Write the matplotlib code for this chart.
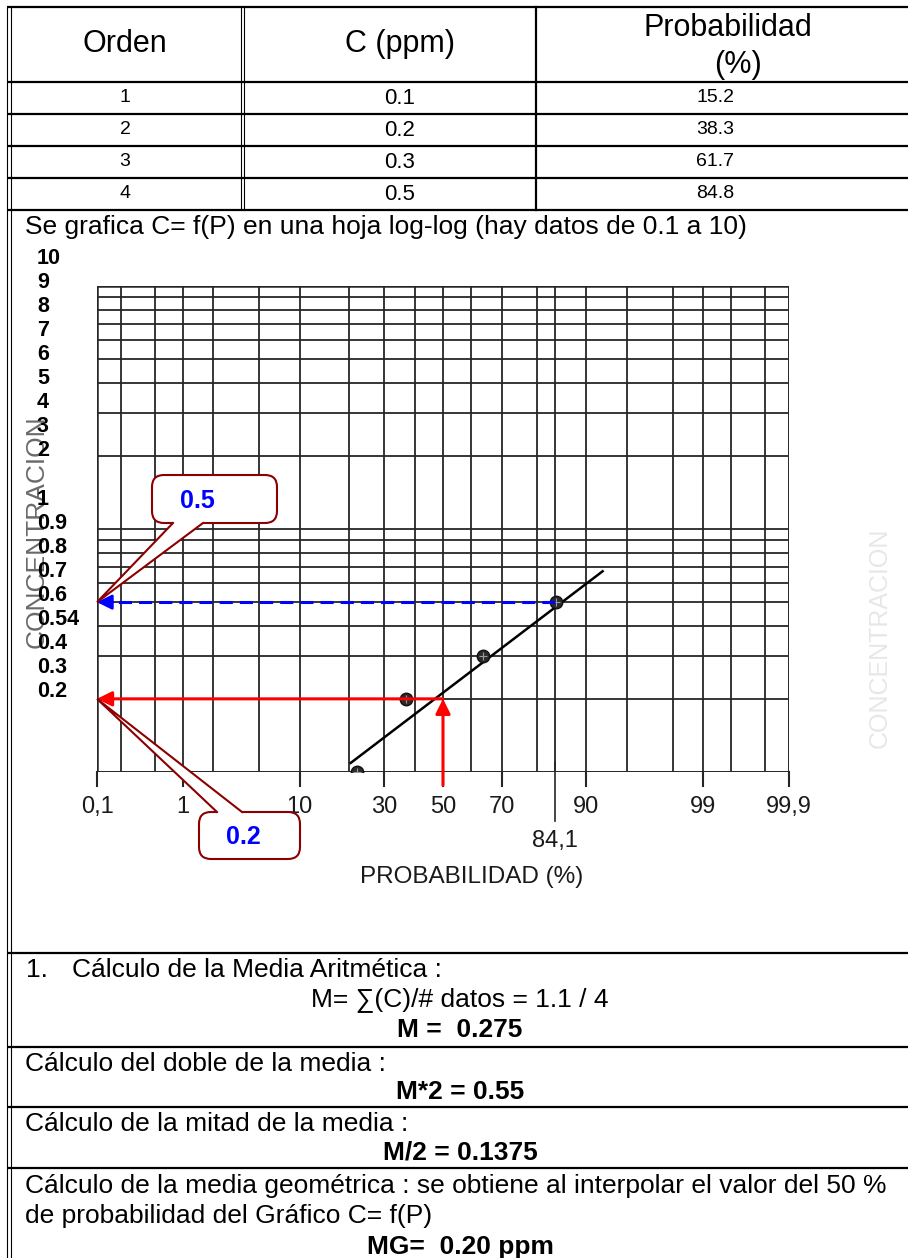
import matplotlib
matplotlib.use('Agg')
import matplotlib.pyplot as plt
from matplotlib.patches import FancyBboxPatch, Polygon
from statistics import NormalDist

plt.rcParams['font.family'] = ['Liberation Sans', 'DejaVu Sans']

W, H = 908, 1258

# tabla de datos
orden = ['1', '2', '3', '4']
c_ppm = ['0.1', '0.2', '0.3', '0.5']
prob = ['15.2', '38.3', '61.7', '84.8']

# puntos marcados en la hoja log-probabilidad (P %, C ppm)
p_pts = [22.0, 37.0, 64.0, 84.4]
c_pts = [0.1, 0.2, 0.3, 0.5]
# recta trazada sobre los puntos
p_fit = [20.5, 92.3]
c_fit = [0.109, 0.67]

# lineas de la hoja
p_lines = [0.1, 0.2, 0.5, 1, 2, 5, 10, 20, 30, 40, 50, 60, 70, 80, 84.1, 90, 95, 98, 99, 99.5, 99.8, 99.9]
p_ticks = [0.1, 1, 10, 30, 50, 70, 90, 99, 99.9]
p_tick_txt = ['0,1', '1', '10', '30', '50', '70', '90', '99', '99,9']
c_lines = [0.1, 0.2, 0.3, 0.4, 0.5, 0.6, 0.7, 0.8, 0.9, 1, 2, 3, 4, 5, 6, 7, 8, 9, 10]

# escala escrita a mano a la izquierda
escala = ['10', '9', '8', '7', '6', '5', '4', '3', '2', '', '1',
          '0.9', '0.8', '0.7', '0.6', '0.54', '0.4', '0.3', '0.2']

p_mg, c_mg = 50, 0.2       # media geometrica
p_sig, c_sig = 84.1, 0.5   # 84,1 %


def z(p):
    return NormalDist().inv_cdf(p / 100.0)


def frac(x0, y0, x1, y1):
    return [x0 / W, 1 - y1 / H, (x1 - x0) / W, (y1 - y0) / H]


fig = plt.figure(figsize=(W / 100, H / 100), dpi=100)
doc = fig.add_axes([0, 0, 1, 1])
doc.set_xlim(0, W)
doc.set_ylim(H, 0)
doc.axis('off')

# ---- tabla ----
lc = 'black'
for y in [7, 82, 114, 146, 178, 210, 953, 1047, 1107, 1168]:
    doc.plot([7, W], [y, y], color=lc, lw=1.6, solid_capstyle='butt')
for x in [7, 11]:
    doc.plot([x, x], [7, H], color=lc, lw=0.8)
for x in [241, 244]:
    doc.plot([x, x], [7, 210], color=lc, lw=0.8)
doc.plot([536, 536], [7, 210], color=lc, lw=1.6)

doc.text(125, 44, 'Orden', fontsize=22, ha='center', va='center')
doc.text(400, 44, 'C (ppm)', fontsize=22, ha='center', va='center')
doc.text(728, 28, 'Probabilidad', fontsize=22, ha='center', va='center')
doc.text(738, 65, '(%)', fontsize=22, ha='center', va='center')
for i in range(4):
    y = 98 + 32 * i
    doc.text(125, y, orden[i], fontsize=14, ha='center', va='center')
    doc.text(400, y, c_ppm[i], fontsize=16, ha='center', va='center')
    doc.text(715, y, prob[i], fontsize=14, ha='center', va='center')

doc.text(25, 227, 'Se grafica C= f(P) en una hoja log-log (hay datos de 0.1 a 10)',
         fontsize=19, va='center')

for i, t in enumerate(escala):
    doc.text(37, 258 + 24.11 * i, t, fontsize=15.5, fontweight='bold', va='center', zorder=2)

doc.text(37, 532, 'CONCENTRACION', fontsize=19, rotation=90, ha='center', va='center',
         color='#6a6a6a', zorder=1)
doc.text(880, 638, 'CONCENTRACION', fontsize=18, rotation=90, ha='center', va='center',
         color='#bbbbbb', alpha=0.35, zorder=0)
doc.text(472, 877, 'PROBABILIDAD (%)', fontsize=17.5, ha='center', va='center', color='#1a1a1a')

# ---- texto inferior ----
fs = 19
doc.text(26, 970, '1.', fontsize=fs, va='center')
doc.text(72, 970, 'Cálculo de la Media Aritmética :', fontsize=fs, va='center')
doc.text(460, 1000, 'M= ∑(C)/# datos = 1.1 / 4', fontsize=fs, ha='center', va='center')
doc.text(460, 1030, 'M =  0.275', fontsize=fs, ha='center', va='center', fontweight='bold')
doc.text(25, 1064, 'Cálculo del doble de la media :', fontsize=fs, va='center')
doc.text(460, 1092, 'M*2 = 0.55', fontsize=fs, ha='center', va='center', fontweight='bold')
doc.text(25, 1124, 'Cálculo de la mitad de la media :', fontsize=fs, va='center')
doc.text(460, 1153, 'M/2 = 0.1375', fontsize=fs, ha='center', va='center', fontweight='bold')
doc.text(25, 1186, 'Cálculo de la media geométrica : se obtiene al interpolar el valor del 50 %',
         fontsize=fs, va='center')
doc.text(25, 1216, 'de probabilidad del Gráfico C= f(P)', fontsize=fs, va='center')
doc.text(460, 1247, 'MG=  0.20 ppm', fontsize=fs, ha='center', va='center', fontweight='bold')

# ---- hoja log-probabilidad ----
ax = fig.add_axes(frac(97, 286, 789, 772))
ax.set_yscale('log')
ax.set_xlim(z(0.1), z(99.9))
ax.set_ylim(0.1, 10)
ax.axis('off')

gc = '#262626'
for p in p_lines:
    ax.axvline(z(p), color=gc, lw=1.3)
for c in c_lines:
    ax.axhline(c, color=gc, lw=1.3)
# marco de la hoja
for c in (0.1, 10):
    ax.axhline(c, color=gc, lw=1.8)
for p in (0.1, 99.9):
    ax.axvline(z(p), color=gc, lw=1.8)

tr = ax.get_xaxis_transform()
for p, t in zip(p_ticks, p_tick_txt):
    ax.plot([z(p), z(p)], [0, -0.028], transform=tr, clip_on=False, color=gc, lw=1.5)
    ax.text(z(p), -0.072, t, transform=tr, ha='center', va='center', fontsize=17,
            color='#1a1a1a')
ax.plot([z(84.1), z(84.1)], [0.02, -0.1], transform=tr, clip_on=False, color=gc, lw=1.2)
ax.text(z(84.1), -0.142, '84,1', transform=tr, ha='center', va='center', fontsize=17,
        color='#1a1a1a')

xs = [z(p) for p in p_fit]
ax.plot(xs, c_fit, color='black', lw=1.8, zorder=4)
xp = [z(p) for p in p_pts]
ax.plot(xp, c_pts, 'o', ms=9, mfc='#2a2a2a', mec='#111111', zorder=5)
ax.plot(xp, c_pts, '+', ms=6, color='#9a9a9a', mew=0.8, zorder=6)

# flecha azul (84,1 %)
blue = '#0000ff'
x0 = z(0.1)
ax.plot([z(p_sig), x0 + 0.1], [c_sig, c_sig], color=blue, lw=2.2, dashes=(4.3, 2.3), zorder=7)
ax.annotate('', xy=(x0, c_sig), xytext=(x0 + 0.14, c_sig),
            arrowprops=dict(arrowstyle='-|>', color=blue, lw=2, mutation_scale=22,
                            shrinkA=0, shrinkB=0), zorder=8)

# flechas rojas (50 %)
red = '#ff0000'
ax.annotate('', xy=(x0, c_mg), xytext=(z(p_mg), c_mg),
            arrowprops=dict(arrowstyle='-|>', color=red, lw=2.2, mutation_scale=22,
                            shrinkA=0, shrinkB=0), zorder=8)
ax.annotate('', xy=(z(p_mg), c_mg), xytext=(z(p_mg), -0.027),
            textcoords=('data', 'axes fraction'),
            arrowprops=dict(arrowstyle='-|>', color=red, lw=2.2, mutation_scale=22,
                            shrinkA=0, shrinkB=0), zorder=8, annotation_clip=False)

# ---- llamadas ----
top = fig.add_axes([0, 0, 1, 1], zorder=5)
top.set_xlim(0, W)
top.set_ylim(H, 0)
top.axis('off')
top.patch.set_visible(False)

fig.canvas.draw()
to_px = top.transData.inverted()


def callout(box, base, edge_y, tip, text, tx):
    x0_, y0_, x1_, y1_ = box
    dark = '#8b0000'
    dy = 1 if edge_y == y1_ else -1
    top.add_patch(FancyBboxPatch((x0_, y0_), x1_ - x0_, y1_ - y0_,
                                 boxstyle='round,pad=0,rounding_size=12',
                                 fc='white', ec=dark, lw=1.5, zorder=2))
    top.add_patch(Polygon([(base[0], edge_y - 3 * dy), (base[0], edge_y), tip,
                           (base[1], edge_y), (base[1], edge_y - 3 * dy)],
                          closed=True, fc='white', ec='none', zorder=3))
    top.plot([base[0], tip[0], base[1]], [edge_y, tip[1], edge_y], color=dark, lw=1.5,
             zorder=4, solid_joinstyle='miter')
    top.text(tx, (y0_ + y1_) / 2 + 2, text, color=blue, fontsize=18,
             fontweight='bold', ha='center', va='center', zorder=5)


tip_b = to_px.transform(ax.transData.transform((x0, c_sig)))
tip_r = to_px.transform(ax.transData.transform((x0, c_mg)))
callout((152, 475, 277, 523), (173, 203), 523, tip_b, '0.5', 197)
callout((199, 812, 300, 859), (217, 242), 812, tip_r, '0.2', 243)

fig.savefig('out.png', dpi=100)
